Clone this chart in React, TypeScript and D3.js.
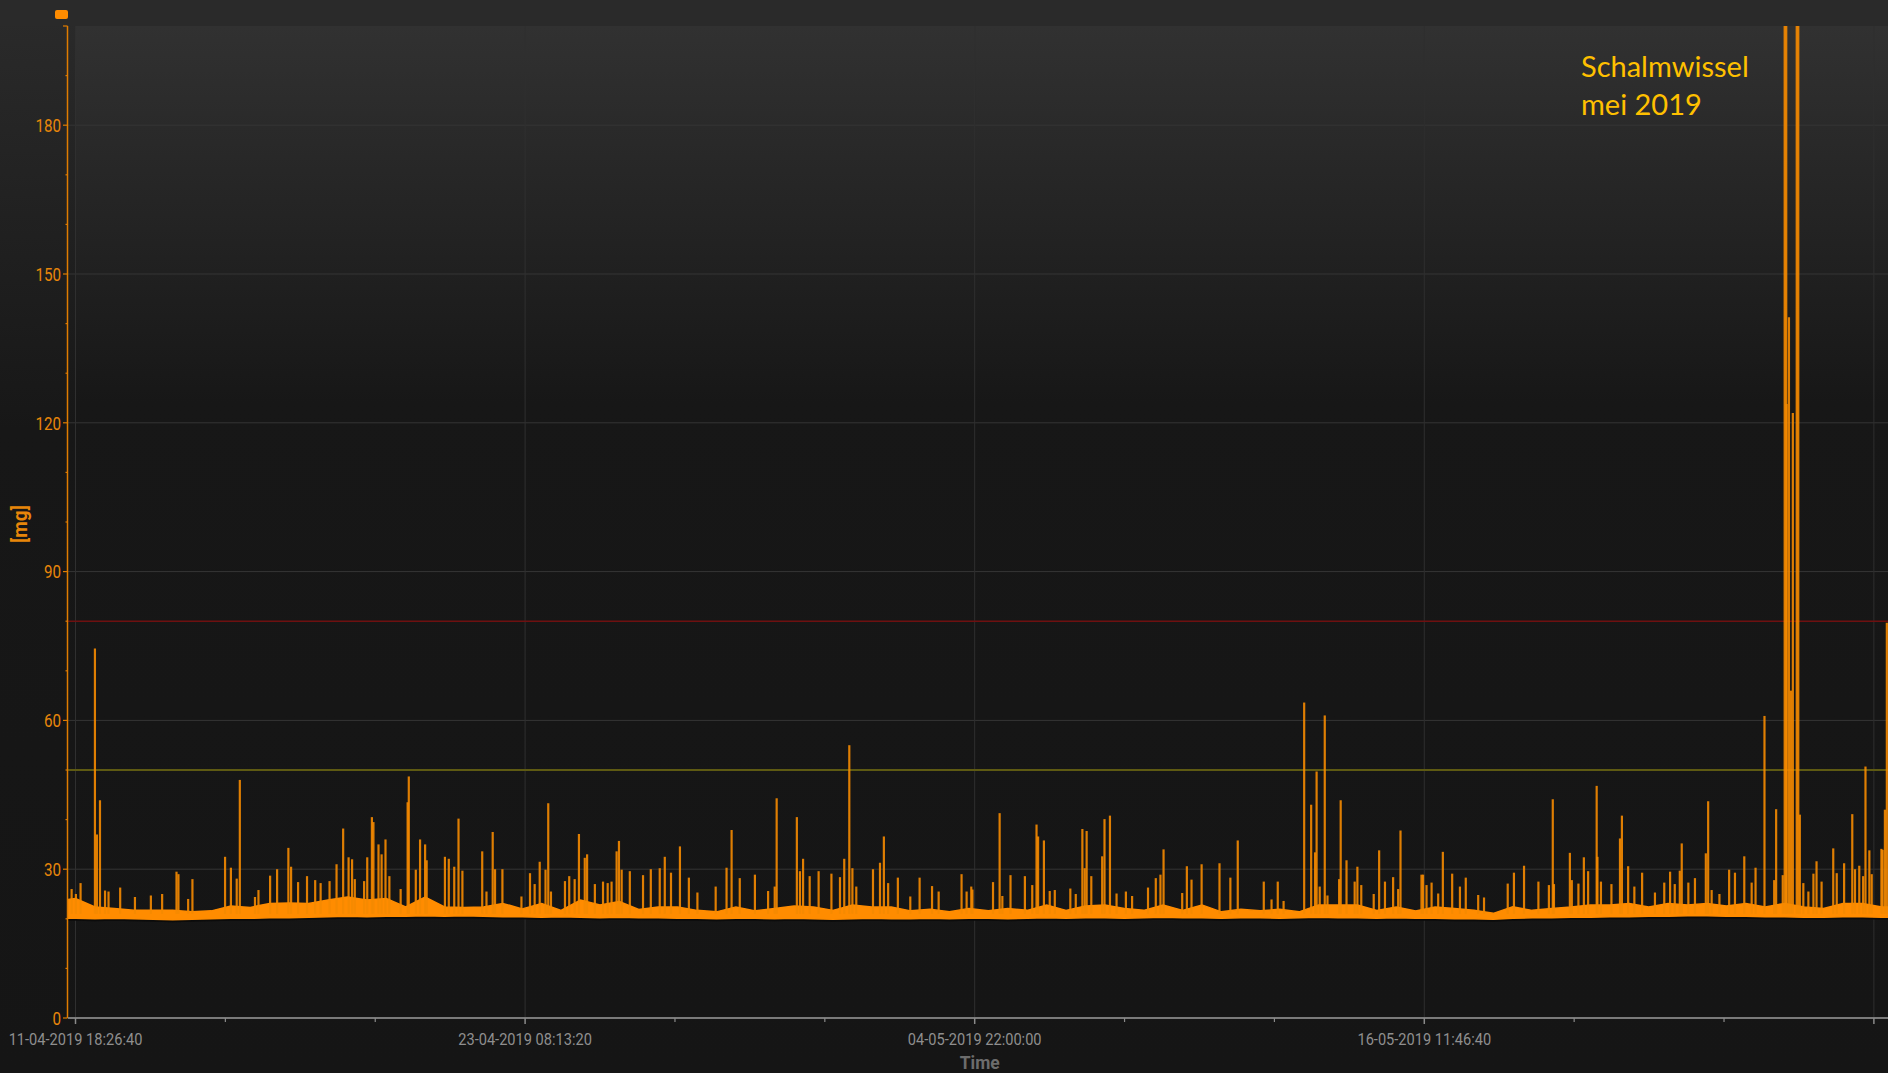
import React from 'react';
import * as d3 from 'd3';

// time axis in unix seconds; 1555000000 = 11-04-2019 18:26:40 (CEST)
const T0 = 1555000000;
const DAY = 86400;

const yLabelValues = [0, 30, 60, 90, 120, 150, 180];
const xTickLabels = ['11-04-2019 18:26:40', '23-04-2019 08:13:20', '04-05-2019 22:00:00', '16-05-2019 11:46:40'];
const limitRed = 80;
const limitYellow = 50;

// dense noise band [mg], one value per half day, starting at day -0.5
const bandTop = [
  23.5, 24.1, 22.4, 22.1, 21.7, 21.7, 21.7, 21.4, 21.6, 22.6,
  22.3, 23.1, 23.2, 23.1, 23.8, 24.4, 23.8, 24.1, 22.4, 24.4,
  22.4, 22.3, 22.4, 23.1, 22.0, 23.1, 21.7, 23.8, 22.8, 23.5,
  21.9, 22.4, 22.4, 21.7, 21.4, 22.4, 21.6, 22.1, 22.6, 22.4,
  21.7, 22.8, 22.4, 22.4, 21.6, 21.9, 21.4, 22.1, 21.6, 22.1,
  21.7, 22.8, 21.7, 22.6, 22.8, 22.1, 21.7, 22.8, 21.7, 22.8,
  21.4, 21.9, 21.6, 21.9, 21.4, 22.8, 22.8, 22.8, 21.7, 22.4,
  21.6, 22.4, 22.1, 21.7, 21.1, 22.4, 21.7, 22.1, 22.4, 22.8,
  22.8, 23.1, 22.4, 23.1, 22.8, 23.1, 22.6, 23.1, 22.4, 23.1,
  22.4, 22.1, 23.1, 23.1, 22.4, 22.4,
];
const bandBottom = [
  20.1, 20.1, 20.0, 20.1, 20.0, 19.9, 19.8, 19.9, 20.0, 20.1,
  20.1, 20.2, 20.2, 20.3, 20.4, 20.5, 20.4, 20.5, 20.5, 20.6,
  20.5, 20.6, 20.5, 20.4, 20.4, 20.3, 20.4, 20.3, 20.2, 20.3,
  20.2, 20.2, 20.1, 20.1, 20.0, 20.1, 20.1, 20.0, 20.1, 20.0,
  19.9, 20.0, 20.1, 20.0, 20.0, 20.1, 20.0, 20.1, 20.1, 20.0,
  20.1, 20.2, 20.1, 20.2, 20.2, 20.1, 20.2, 20.3, 20.2, 20.2,
  20.1, 20.2, 20.2, 20.1, 20.2, 20.3, 20.2, 20.2, 20.1, 20.2,
  20.1, 20.1, 20.0, 20.0, 19.9, 20.1, 20.2, 20.2, 20.3, 20.3,
  20.4, 20.4, 20.5, 20.5, 20.6, 20.6, 20.5, 20.5, 20.4, 20.4,
  20.3, 20.3, 20.4, 20.4, 20.3, 20.3,
];

// peaks: [days after T0, mg]
const spikes: [number, number][] = [
  [-0.10, 26], [0.01, 25], [0.13, 27.2], [0.50, 74.5], [0.55, 37], [0.63, 43.9], [0.76, 25.7], [0.85, 25.5],
  [1.15, 26.3], [1.53, 24.4], [1.94, 24.7], [2.23, 25], [2.60, 29.5], [2.65, 29], [2.90, 24], [3.01, 28],
  [3.85, 32.5], [4.00, 30.3], [4.15, 28.1], [4.23, 48], [4.62, 24.4], [4.71, 25.8], [5.01, 28.7], [5.19, 30],
  [5.48, 34.3], [5.55, 30.5], [5.73, 27.4], [5.96, 28.6], [6.17, 27.8], [6.31, 27.2], [6.54, 27.6], [6.72, 31],
  [6.89, 38.2], [7.03, 32.4], [7.12, 32], [7.19, 28], [7.43, 27.6], [7.51, 32.4], [7.63, 40.5], [7.67, 39.5],
  [7.80, 35], [7.88, 33], [7.98, 36], [8.08, 28.6], [8.37, 26], [8.55, 43.5], [8.58, 48.7], [8.76, 29.9],
  [8.87, 36], [9.00, 35], [9.04, 31.8], [9.51, 32.5], [9.61, 32.1], [9.75, 30.5], [9.86, 40.2], [9.96, 29.7],
  [10.47, 33.6], [10.58, 25.5], [10.74, 37.5], [10.80, 30], [10.99, 30],
  [11.48, 24.5], [11.70, 29.2], [11.82, 27], [11.95, 31.5], [12.10, 29.9], [12.17, 43.3], [12.24, 25.5],
  [12.60, 27.6], [12.71, 28.6], [12.85, 28], [12.96, 37.1], [13.11, 32.3], [13.17, 33], [13.37, 27],
  [13.58, 27.5], [13.70, 27.2], [13.80, 27.5], [13.93, 33.6], [13.99, 35.7], [14.06, 29.9], [14.27, 29.6],
  [14.61, 28.8], [14.81, 30], [15.04, 30.2], [15.17, 32.5], [15.33, 29.3], [15.56, 34.6], [15.79, 28.3],
  [16.01, 25.3], [16.48, 26.5], [16.76, 30.3], [16.89, 37.9], [17.10, 28.2], [17.49, 28.9], [17.83, 25.6],
  [18.00, 26.5], [18.05, 44.3], [18.57, 40.5], [18.65, 29.6], [18.73, 32.1], [18.90, 28.6], [19.13, 29.6],
  [19.46, 29.1], [19.68, 28.4], [19.79, 32.1], [19.92, 55], [20.00, 30.2], [20.10, 26.5], [20.53, 30],
  [20.71, 31.3], [20.81, 36.6], [20.92, 27.2], [21.17, 28.3], [21.49, 24.5], [21.73, 28.3], [22.05, 26.6],
  [22.22, 25.5], [22.81, 29], [22.94, 25.5], [23.06, 26.5],
  [23.09, 25.9], [23.62, 27.4], [23.79, 41.3], [23.86, 24.6], [24.07, 28.8], [24.44, 28.6], [24.63, 26.8],
  [24.74, 39], [24.78, 36.6], [24.93, 35.8], [25.08, 25.6], [25.21, 25.8], [25.61, 26.1], [25.75, 25],
  [25.92, 38.1], [25.98, 30.2], [26.03, 37.7], [26.15, 28.6], [26.43, 32.6], [26.49, 40.1], [26.63, 40.8],
  [26.80, 25.1], [27.04, 25.5], [27.20, 24.6], [27.61, 26.3], [27.81, 28.2], [27.93, 28.9], [28.01, 34],
  [28.49, 25.2], [28.61, 30.6], [28.73, 27.9], [28.99, 31], [29.45, 31.2], [29.73, 28.3], [29.92, 35.8],
  [30.59, 27.5], [30.79, 23.9], [30.95, 27.5], [31.10, 23.6], [31.63, 63.6], [31.81, 43], [31.91, 33.4],
  [31.95, 49.7], [32.03, 26.5], [32.16, 61], [32.23, 24.7], [32.53, 28], [32.57, 43.9], [32.72, 31.8],
  [32.93, 27.5], [33.00, 30.5], [33.10, 26.8], [33.42, 25], [33.56, 33.8], [33.71, 27.5], [33.92, 28.4],
  [34.05, 26], [34.11, 37.8], [34.65, 28.9], [34.69, 28.9],
  [34.78, 26.8], [34.91, 27.3], [35.08, 25.1], [35.20, 33.5], [35.44, 29.1], [35.64, 26.5], [35.79, 28.3],
  [36.11, 24.8], [36.26, 24.3], [36.87, 27.1], [37.03, 29.3], [37.29, 30.7], [37.66, 27.5], [37.93, 26.8],
  [38.03, 44.1], [38.06, 27], [38.47, 33.3], [38.52, 27.8], [38.69, 27.1], [38.83, 32.4], [38.94, 29.6],
  [39.16, 46.8], [39.18, 32.5], [39.27, 27.5], [39.54, 27], [39.76, 36.2], [39.81, 40.8], [39.97, 30.6],
  [40.13, 26.5], [40.33, 29.3], [40.66, 25.3], [40.90, 27.3], [41.05, 29.5], [41.17, 27], [41.30, 29.7],
  [41.35, 35.2], [41.52, 27.3], [41.69, 28.2], [41.97, 33.2], [42.03, 43.7], [42.12, 25.8], [42.32, 25],
  [42.57, 29.9], [42.72, 29.3], [42.96, 32.6], [43.15, 27.3], [43.25, 30.3], [43.48, 60.9], [43.73, 27.8],
  [43.78, 42.1], [43.95, 28.8], [44.00, 260], [44.04, 260], [44.05, 123.8], [44.11, 141.3], [44.16, 66],
  [44.21, 122], [44.31, 260], [44.35, 260], [44.39, 41], [44.48, 27.2], [44.61, 25.5], [44.74, 29.1],
  [44.82, 31.6], [44.95, 27.5], [45.25, 34.2], [45.34, 29.2], [45.53, 31.2], [45.74, 41.1], [45.81, 30],
  [45.92, 30.7], [46.02, 28.6], [46.08, 50.7], [46.18, 33.8], [46.24, 29], [46.49, 34.1], [46.52, 33.9],
  [46.58, 42], [46.63, 79.7],
];

const font = "Roboto, 'Liberation Sans', sans-serif";

export default function App() {
  const width = 1888;
  const height = 1073;
  const plot = { left: 68, top: 26, right: 1888, bottom: 1018 };

  const x = d3.scaleLinear().domain([T0 - 16700, T0 + 4031400]).range([plot.left, plot.right]);
  const y = d3.scaleLinear().domain([0, 200]).range([plot.bottom, plot.top]);
  const sec = (d: number) => T0 + d * DAY;

  const band = bandTop.map((v, i) => ({ t: sec(-0.5 + i * 0.5), hi: v, lo: bandBottom[i] }));
  const bandArea = d3.area<typeof band[0]>().x(d => x(d.t)).y0(d => y(d.lo)).y1(d => y(d.hi))(band) || '';
  const bandEdge = d3.line<typeof band[0]>().x(d => x(d.t)).y(d => y(d.lo) + 1.5)(band) || '';

  const yTicks = d3.range(0, 201, 10);
  const xMajor = d3.range(0, 5).map(k => T0 + k * 1e6);
  const xMinor = d3.range(0, 15).filter(k => k % 3 !== 0).map(k => T0 + (k * 1e6) / 3);

  return (
    <div style={{ position: 'fixed', left: 0, top: 0 }}>
      <svg width={width} height={height} style={{ display: 'block' }}>
        <defs>
          <linearGradient id="bg" x1="0" y1="0" x2="0" y2={height} gradientUnits="userSpaceOnUse">
            <stop offset="0" stopColor="#2b2b2b" />
            <stop offset="0.4" stopColor="#171717" />
            <stop offset="1" stopColor="#151515" />
          </linearGradient>
          <linearGradient id="plotbg" x1="0" y1={plot.top} x2="0" y2={plot.bottom} gradientUnits="userSpaceOnUse">
            <stop offset="0" stopColor="#313131" />
            <stop offset="0.38" stopColor="#171717" />
            <stop offset="1" stopColor="#151515" />
          </linearGradient>
          <clipPath id="clip">
            <rect x={plot.left} y={plot.top} width={plot.right - plot.left} height={plot.bottom - plot.top} />
          </clipPath>
        </defs>

        <rect width={width} height={height} fill="url(#bg)" />
        <rect x={0} y={0} width={width} height={plot.top} fill="#2a2a2a" />
        <rect x={76} y={plot.top} width={plot.right - 76} height={plot.bottom - plot.top} fill="url(#plotbg)" />

        {/* legend marker */}
        <rect x={55} y={10} width={13} height={9} rx={2} fill="#ff8c00" />

        {/* grid */}
        {yLabelValues.filter(v => v > 0).map(v => (
          <line key={'gy' + v} x1={plot.left} x2={plot.right} y1={y(v)} y2={y(v)} stroke="#353535" strokeWidth={1} />
        ))}
        {xMajor.map(t => (
          <line key={'gx' + t} x1={x(t)} x2={x(t)} y1={plot.top} y2={plot.bottom} stroke="#2f2f2f" strokeWidth={1} />
        ))}

        {/* limit lines */}
        <line x1={plot.left} x2={plot.right} y1={y(limitRed)} y2={y(limitRed)} stroke="#6e1010" strokeWidth={1.5} />
        <line x1={plot.left} x2={plot.right} y1={y(limitYellow)} y2={y(limitYellow)} stroke="#5e5a12" strokeWidth={2} />

        {/* series */}
        <g clipPath="url(#clip)">
          <path d={bandEdge} fill="none" stroke="#0b0b0b" strokeWidth={2} />
          <path d={bandArea} fill="#ff8c00" stroke="#ff8c00" strokeWidth={1.5} />
          {spikes.map(([d, v], i) => (
            <line
              key={'s' + i}
              x1={x(sec(d))}
              x2={x(sec(d))}
              y1={y(21)}
              y2={y(v)}
              stroke="#f58a00"
              strokeWidth={2.2}
              strokeOpacity={0.9}
            />
          ))}
        </g>

        {/* y axis */}
        <line x1={67.5} x2={67.5} y1={plot.top} y2={plot.bottom} stroke="#e07c00" strokeWidth={1.5} />
        {yTicks.map(v => {
          const major = v % 30 === 0 || v === 200;
          return (
            <line key={'yt' + v} x1={major ? 63 : 65.5} x2={67.5} y1={y(v)} y2={y(v)} stroke="#e07c00" strokeWidth={1.2} />
          );
        })}
        {yLabelValues.map(v => (
          <g key={'yl' + v} transform={`translate(61,${y(v)}) scale(0.8,1)`}>
            <text dy="0.36em" textAnchor="end" fill="#e8860a" fontFamily={font} fontSize={19}>
              {v}
            </text>
          </g>
        ))}
        <g transform={`translate(27,${(plot.top + plot.bottom) / 2 + 2}) rotate(-90) scale(0.95,1)`}>
          <text textAnchor="middle" fill="#e8860a" fontFamily={font} fontWeight="bold" fontSize={20}>
            [mg]
          </text>
        </g>

        {/* x axis */}
        <line x1={plot.left} x2={plot.right} y1={plot.bottom} y2={plot.bottom} stroke="#7a7a7a" strokeWidth={2} />
        {xMajor.map(t => (
          <line key={'xt' + t} x1={x(t)} x2={x(t)} y1={plot.bottom} y2={plot.bottom + 6} stroke="#8a8a8a" strokeWidth={1.5} />
        ))}
        {xMinor.map(t => (
          <line key={'xm' + t} x1={x(t)} x2={x(t)} y1={plot.bottom} y2={plot.bottom + 4} stroke="#8a8a8a" strokeWidth={1.2} />
        ))}
        {xTickLabels.map((label, k) => (
          <g key={'xl' + k} transform={`translate(${x(xMajor[k])},1045) scale(0.86,1)`}>
            <text textAnchor="middle" fill="#8f8f8f" fontFamily={font} fontSize={17}>
              {label}
            </text>
          </g>
        ))}
        <g transform={`translate(${x(xMajor[2]) + 5},1069) scale(0.92,1)`}>
          <text textAnchor="middle" fill="#6c6c6c" fontFamily={font} fontWeight="bold" fontSize={19}>
            Time
          </text>
        </g>

        {/* annotation */}
        <text fill="#ffc000" fontFamily="Lato, 'Open Sans', sans-serif" fontSize={29}>
          <tspan x={1581} y={77}>Schalmwissel</tspan>
          <tspan x={1581} y={115}>mei 2019</tspan>
        </text>
      </svg>
    </div>
  );
}
